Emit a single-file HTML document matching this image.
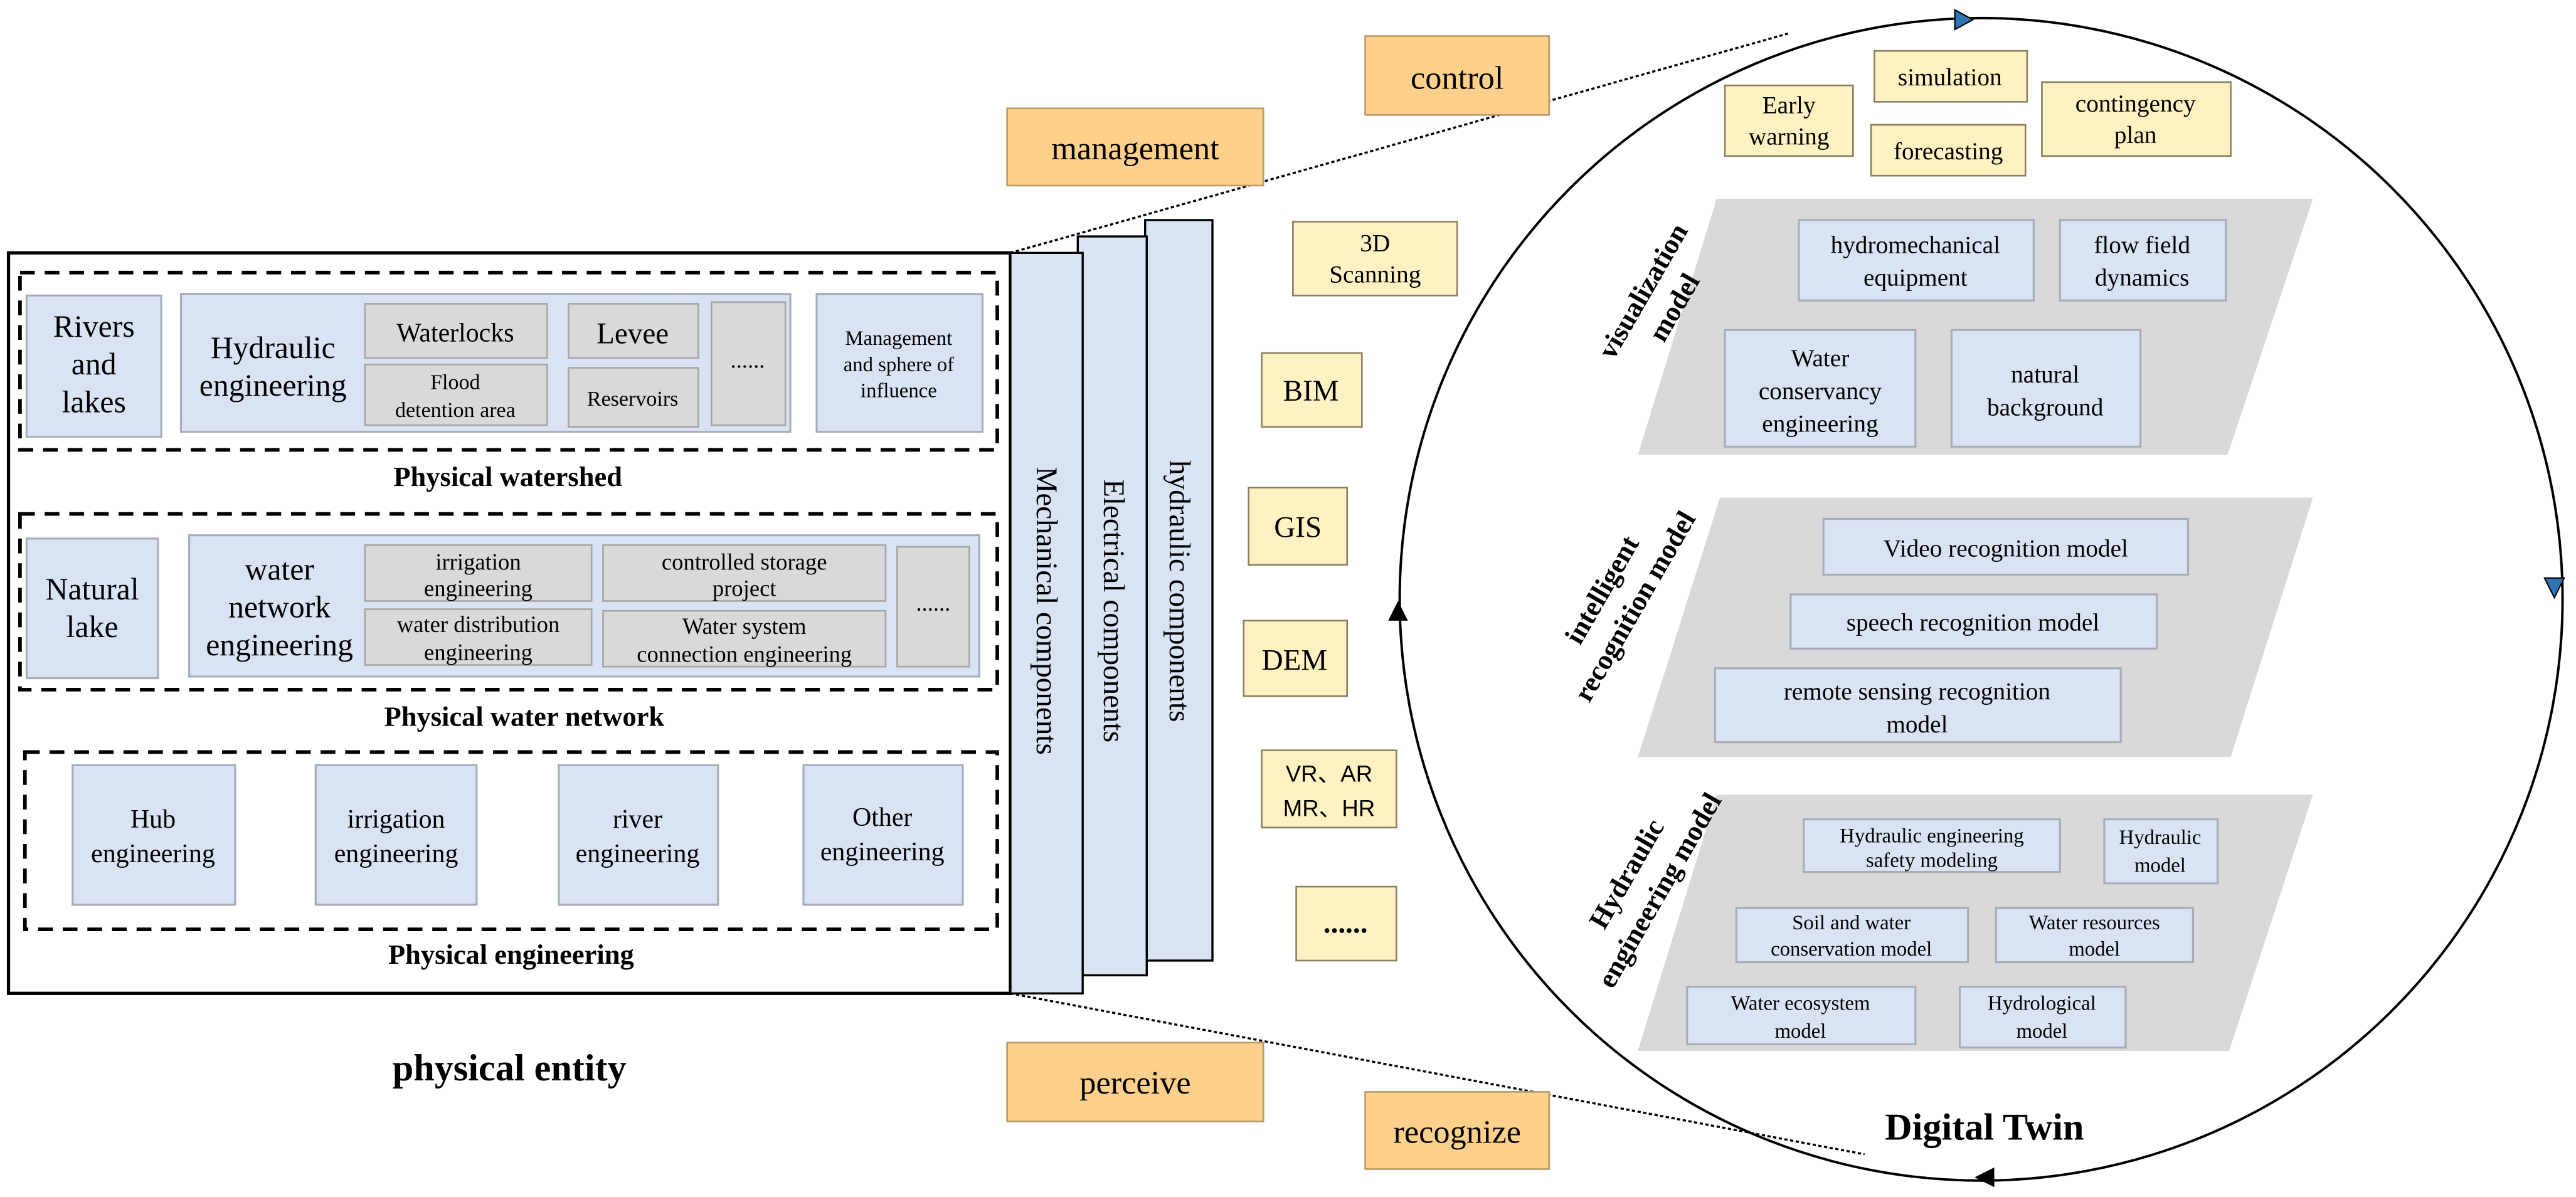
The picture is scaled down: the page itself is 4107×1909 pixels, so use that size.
<!DOCTYPE html>
<html><head><meta charset="utf-8"><style>
html,body{margin:0;padding:0;background:#fff}
svg{display:block;font-family:"Liberation Serif","DejaVu Serif",serif}
svg text{font-family:"Liberation Serif","DejaVu Serif",serif;fill:#000}
.b{fill:#dae3f3;stroke:#a6adb9;stroke-width:1.2}
.g{fill:#d9d9d9;stroke:#a6a6a6;stroke-width:1}
.o{fill:#fdd08c;stroke:#b89a62;stroke-width:1}
.y{fill:#fff2c2;stroke:#8a8060;stroke-width:1}
.d{fill:none;stroke:#000;stroke-width:2.2;stroke-dasharray:9,6}
</style></head><body>
<svg width="4107" height="1909" viewBox="0 0 1568 729" xmlns="http://www.w3.org/2000/svg" font-family="Liberation Serif, DejaVu Serif, serif">
<g transform="rotate(0.0001)">
<!-- left big box -->
<rect x="5" y="154" width="610" height="451" fill="#fff" stroke="#000" stroke-width="2"/>
<rect class="d" x="12" y="166" width="595" height="108"/>
<rect class="d" x="12" y="313" width="595" height="107"/>
<rect class="d" x="15" y="458" width="592" height="108"/>

<rect class="b" x="16" y="180" width="82" height="86"/>
<text x="57" y="205" font-size="19" text-anchor="middle">Rivers</text>
<text x="57" y="228" font-size="19" text-anchor="middle">and</text>
<text x="57" y="251" font-size="19" text-anchor="middle">lakes</text>
<rect class="b" x="110" y="179" width="371" height="84"/>
<text x="166" y="218" font-size="19" text-anchor="middle">Hydraulic</text>
<text x="166" y="241" font-size="19" text-anchor="middle">engineering</text>
<rect class="g" x="222" y="185" width="111" height="33"/>
<text x="277" y="208" font-size="16" text-anchor="middle">Waterlocks</text>
<rect class="g" x="222" y="222" width="111" height="37"/>
<text x="277" y="237" font-size="13" text-anchor="middle">Flood</text>
<text x="277" y="254" font-size="13" text-anchor="middle">detention area</text>
<rect class="g" x="346" y="185" width="79" height="33"/>
<text x="385" y="209" font-size="18" text-anchor="middle">Levee</text>
<rect class="g" x="346" y="224" width="79" height="36"/>
<text x="385" y="247" font-size="13" text-anchor="middle">Reservoirs</text>
<rect class="g" x="433" y="184" width="45" height="75"/>
<text x="455" y="224" font-size="14" text-anchor="middle">......</text>
<rect class="b" x="497" y="179" width="101" height="84"/>
<text x="547" y="210" font-size="12.5" text-anchor="middle">Management</text>
<text x="547" y="226" font-size="12.5" text-anchor="middle">and sphere of</text>
<text x="547" y="242" font-size="12.5" text-anchor="middle">influence</text>
<text x="309" y="296" font-size="17" font-weight="bold" text-anchor="middle">Physical watershed</text>

<rect class="b" x="16" y="328" width="80" height="85"/>
<text x="56" y="365" font-size="19" text-anchor="middle">Natural</text>
<text x="56" y="388" font-size="19" text-anchor="middle">lake</text>
<rect class="b" x="115" y="326" width="481" height="86"/>
<text x="170" y="353" font-size="19" text-anchor="middle">water</text>
<text x="170" y="376" font-size="19" text-anchor="middle">network</text>
<text x="170" y="399" font-size="19" text-anchor="middle">engineering</text>
<rect class="g" x="222" y="332" width="138" height="34"/>
<text x="291" y="347" font-size="14" text-anchor="middle">irrigation</text>
<text x="291" y="363" font-size="14" text-anchor="middle">engineering</text>
<rect class="g" x="222" y="371" width="138" height="34"/>
<text x="291" y="385" font-size="14" text-anchor="middle">water distribution</text>
<text x="291" y="402" font-size="14" text-anchor="middle">engineering</text>
<rect class="g" x="367" y="332" width="172" height="34"/>
<text x="453" y="347" font-size="14" text-anchor="middle">controlled storage</text>
<text x="453" y="363" font-size="14" text-anchor="middle">project</text>
<rect class="g" x="367" y="372" width="172" height="34"/>
<text x="453" y="386" font-size="14" text-anchor="middle">Water system</text>
<text x="453" y="403" font-size="14" text-anchor="middle">connection engineering</text>
<rect class="g" x="546" y="333" width="44" height="73"/>
<text x="568" y="372" font-size="14" text-anchor="middle">......</text>
<text x="319" y="442" font-size="17" font-weight="bold" text-anchor="middle">Physical water network</text>

<rect class="b" x="44" y="466" width="99" height="85"/>
<text x="93" y="504" font-size="16" text-anchor="middle">Hub</text>
<text x="93" y="525" font-size="16" text-anchor="middle">engineering</text>
<rect class="b" x="192" y="466" width="98" height="85"/>
<text x="241" y="504" font-size="16" text-anchor="middle">irrigation</text>
<text x="241" y="525" font-size="16" text-anchor="middle">engineering</text>
<rect class="b" x="340" y="466" width="97" height="85"/>
<text x="388" y="504" font-size="16" text-anchor="middle">river</text>
<text x="388" y="525" font-size="16" text-anchor="middle">engineering</text>
<rect class="b" x="489" y="466" width="97" height="85"/>
<text x="537" y="503" font-size="16" text-anchor="middle">Other</text>
<text x="537" y="524" font-size="16" text-anchor="middle">engineering</text>
<text x="311" y="587" font-size="17" font-weight="bold" text-anchor="middle">Physical engineering</text>
<text x="310" y="658" font-size="23" font-weight="bold" text-anchor="middle">physical entity</text>

<!-- components -->
<rect x="697" y="134" width="41" height="451" fill="#dae3f3" stroke="#000" stroke-width="1.3"/>
<rect x="656" y="144" width="42" height="450" fill="#dae3f3" stroke="#000" stroke-width="1.3"/>
<rect x="615" y="154" width="44" height="451" fill="#dae3f3" stroke="#000" stroke-width="1.3"/>
<text transform="translate(631,372) rotate(90)" font-size="18" text-anchor="middle">Mechanical components</text>
<text transform="translate(672,372) rotate(90)" font-size="18" text-anchor="middle">Electrical components</text>
<text transform="translate(712,360) rotate(90)" font-size="18" text-anchor="middle">hydraulic components</text>

<!-- dotted lines -->
<line x1="615" y1="154" x2="1090" y2="20" stroke="#000" stroke-width="1.3" stroke-dasharray="2,1.5"/>
<line x1="615" y1="605" x2="1135" y2="703" stroke="#000" stroke-width="1.3" stroke-dasharray="2,1.5"/>

<!-- orange -->
<rect class="o" x="831" y="22" width="112" height="48"/><text x="887" y="54" font-size="20" text-anchor="middle">control</text>
<rect class="o" x="613" y="66" width="156" height="47"/><text x="691" y="97" font-size="20" text-anchor="middle">management</text>
<rect class="o" x="613" y="635" width="156" height="48"/><text x="691" y="666" font-size="20" text-anchor="middle">perceive</text>
<rect class="o" x="831" y="665" width="112" height="47"/><text x="887" y="696" font-size="20" text-anchor="middle">recognize</text>

<!-- yellow -->
<rect class="y" x="787" y="135" width="100" height="45"/>
<text x="837" y="153" font-size="15" text-anchor="middle">3D</text>
<text x="837" y="172" font-size="15" text-anchor="middle">Scanning</text>
<rect class="y" x="768" y="215" width="61" height="45"/><text x="798" y="244" font-size="18" text-anchor="middle">BIM</text>
<rect class="y" x="760" y="297" width="60" height="47"/><text x="790" y="327" font-size="18" text-anchor="middle">GIS</text>
<rect class="y" x="757" y="378" width="63" height="46"/><text x="788" y="408" font-size="18" text-anchor="middle">DEM</text>
<rect class="y" x="768" y="457" width="82" height="47"/>
<text x="809" y="476" font-size="14" text-anchor="middle" style="font-family:'Liberation Sans','Noto Sans CJK SC',sans-serif">VR、AR</text>
<text x="809" y="497" font-size="14" text-anchor="middle" style="font-family:'Liberation Sans','Noto Sans CJK SC',sans-serif">MR、HR</text>
<rect class="y" x="789" y="540" width="61" height="45"/><text x="819" y="568" font-size="18" font-weight="bold" text-anchor="middle">......</text>

<!-- circle -->
<circle cx="1206" cy="365" r="354" fill="none" stroke="#000" stroke-width="1.5"/>
<path d="M1190,6 L1201,12 L1190,18 z" fill="#2e75b6" stroke="#000" stroke-width="0.8"/>
<path d="M1549,352 L1555,364 L1561,352 z" fill="#2e75b6" stroke="#000" stroke-width="0.8"/>
<path d="M1214,711 L1202,717 L1214,723 z" fill="#000"/>
<path d="M845,378 L851,366 L857,378 z" fill="#000"/>

<!-- top items -->
<rect class="y" x="1050" y="52" width="78" height="43"/>
<text x="1089" y="69" font-size="15" text-anchor="middle">Early</text>
<text x="1089" y="88" font-size="15" text-anchor="middle">warning</text>
<rect class="y" x="1141" y="31" width="93" height="31"/><text x="1187" y="52" font-size="15" text-anchor="middle">simulation</text>
<rect class="y" x="1139" y="76" width="94" height="31"/><text x="1186" y="97" font-size="15" text-anchor="middle">forecasting</text>
<rect class="y" x="1243" y="50" width="115" height="45"/>
<text x="1300" y="68" font-size="15" text-anchor="middle">contingency</text>
<text x="1300" y="87" font-size="15" text-anchor="middle">plan</text>

<!-- visualization -->
<polygon points="1045,121 1408,121 1356,277 997,277" fill="#d9d9d9"/>
<rect class="b" x="1095" y="134" width="143" height="49"/>
<text x="1166" y="154" font-size="15" text-anchor="middle">hydromechanical</text>
<text x="1166" y="174" font-size="15" text-anchor="middle">equipment</text>
<rect class="b" x="1254" y="134" width="101" height="49"/>
<text x="1304" y="154" font-size="15" text-anchor="middle">flow field</text>
<text x="1304" y="174" font-size="15" text-anchor="middle">dynamics</text>
<rect class="b" x="1050" y="201" width="116" height="71"/>
<text x="1108" y="223" font-size="15" text-anchor="middle">Water</text>
<text x="1108" y="243" font-size="15" text-anchor="middle">conservancy</text>
<text x="1108" y="263" font-size="15" text-anchor="middle">engineering</text>
<rect class="b" x="1188" y="201" width="115" height="71"/>
<text x="1245" y="233" font-size="15" text-anchor="middle">natural</text>
<text x="1245" y="253" font-size="15" text-anchor="middle">background</text>
<text transform="translate(1005,180) rotate(-60)" font-size="17" font-weight="bold" text-anchor="middle">visualization</text>
<text transform="translate(1024,190) rotate(-60)" font-size="17" font-weight="bold" text-anchor="middle">model</text>

<!-- intelligent -->
<polygon points="1047,303 1408,303 1358,461 997,461" fill="#d9d9d9"/>
<rect class="b" x="1110" y="316" width="222" height="34"/><text x="1221" y="339" font-size="15" text-anchor="middle">Video recognition model</text>
<rect class="b" x="1090" y="362" width="223" height="33"/><text x="1201" y="384" font-size="15" text-anchor="middle">speech recognition model</text>
<rect class="b" x="1044" y="407" width="247" height="45"/>
<text x="1167" y="426" font-size="15" text-anchor="middle">remote sensing recognition</text>
<text x="1167" y="446" font-size="15" text-anchor="middle">model</text>
<text transform="translate(980,362) rotate(-60)" font-size="17" font-weight="bold" text-anchor="middle">intelligent</text>
<text transform="translate(1000,372) rotate(-60)" font-size="17" font-weight="bold" text-anchor="middle">recognition model</text>

<!-- hydraulic engineering model -->
<polygon points="1045,484 1408,484 1357,640 997,640" fill="#d9d9d9"/>
<rect class="b" x="1098" y="499" width="156" height="32"/>
<text x="1176" y="513" font-size="12.5" text-anchor="middle">Hydraulic engineering</text>
<text x="1176" y="528" font-size="12.5" text-anchor="middle">safety modeling</text>
<rect class="b" x="1281" y="499" width="69" height="39"/>
<text x="1315" y="514" font-size="12.5" text-anchor="middle">Hydraulic</text>
<text x="1315" y="531" font-size="12.5" text-anchor="middle">model</text>
<rect class="b" x="1057" y="553" width="141" height="33"/>
<text x="1127" y="566" font-size="12.5" text-anchor="middle">Soil and water</text>
<text x="1127" y="582" font-size="12.5" text-anchor="middle">conservation model</text>
<rect class="b" x="1215" y="553" width="120" height="33"/>
<text x="1275" y="566" font-size="12.5" text-anchor="middle">Water resources</text>
<text x="1275" y="582" font-size="12.5" text-anchor="middle">model</text>
<rect class="b" x="1027" y="601" width="139" height="35"/>
<text x="1096" y="615" font-size="12.5" text-anchor="middle">Water ecosystem</text>
<text x="1096" y="632" font-size="12.5" text-anchor="middle">model</text>
<rect class="b" x="1193" y="601" width="101" height="37"/>
<text x="1243" y="615" font-size="12.5" text-anchor="middle">Hydrological</text>
<text x="1243" y="632" font-size="12.5" text-anchor="middle">model</text>
<text transform="translate(995,535) rotate(-60)" font-size="17" font-weight="bold" text-anchor="middle">Hydraulic</text>
<text transform="translate(1015,545) rotate(-60)" font-size="17" font-weight="bold" text-anchor="middle">engineering model</text>

<text x="1208" y="694" font-size="23" font-weight="bold" text-anchor="middle">Digital Twin</text>
</g>
</svg>
</body></html>
